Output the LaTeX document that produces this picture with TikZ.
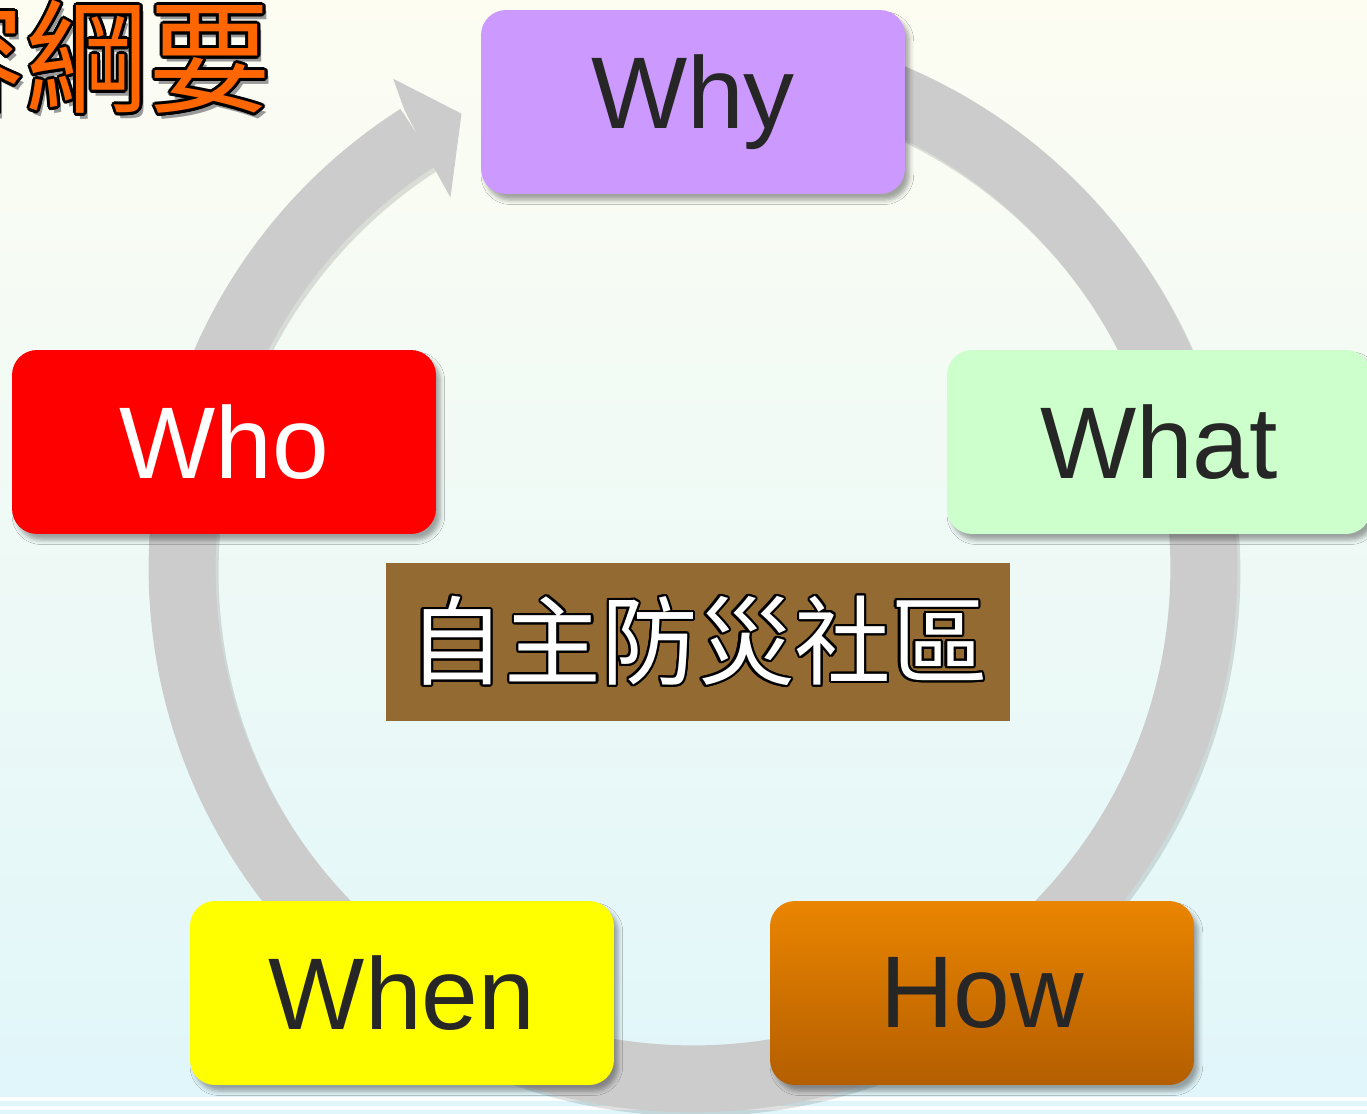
\documentclass[tikz,border=0pt]{standalone}
\usepackage{fontspec}
\setmainfont{Liberation Sans}
\newfontfamily\cjk{Noto Sans CJK TC}
\usepackage{contour}
\usepackage{tikz}
\usetikzlibrary{shadows,shadows.blur,positioning,calc}

\definecolor{bgtop}{HTML}{FDFDF2}
\definecolor{bgbot}{HTML}{E0F6FA}
\definecolor{ringgray}{HTML}{CCCCCC}
\definecolor{textdark}{HTML}{262626}
\definecolor{whyc}{HTML}{CC99FF}
\definecolor{whatc}{HTML}{CCFFCC}
\definecolor{whoc}{HTML}{FF0000}
\definecolor{whenc}{HTML}{FFFF00}
\definecolor{howtop}{HTML}{EA8500}
\definecolor{howbot}{HTML}{B45E00}
\definecolor{corec}{HTML}{946A33}
\definecolor{titlec}{HTML}{FF6600}

\begin{document}
\begin{tikzpicture}[x=0.02cm,y=0.02cm,
  wbox/.style={rounded corners=0.5cm, minimum width=8.48cm, minimum height=3.68cm,
    inner sep=0pt, text=textdark, font=\fontsize{58}{58}\selectfont,
    blur shadow={shadow xshift=2.5pt, shadow yshift=-3.5pt, shadow blur radius=2.5pt, shadow opacity=35}},
  ring/.style={ringgray, line width=1.34cm}
]
      \useasboundingbox (0,0) rectangle (1367,-1114);
      \fill[top color=bgtop, bottom color=bgbot] (0,0) rectangle (1367,-1114);
      \fill[white] (0,-1097) rectangle (1367,-1101);
      \fill[white] (0,-1106) rectangle (1367,-1110);
      %
      \coordinate (o) at (693,-568);
      \draw[ring, black, opacity=.12] ($(o)+(3,-4)+(90:10.22cm)$) arc[start angle=90, end angle=-237.5, radius=10.22cm];
      \draw[ring] ($(o)+(90:10.22cm)$) arc[start angle=90, end angle=-237.5, radius=10.22cm];
      \fill[ringgray] ($(o)+(122.2:10.84cm)$) -- ($(o)+(121.5:11.48cm)$) -- ($(o)+(117:10.2cm)$)
        -- ($(o)+(123.2:8.86cm)$) -- ($(o)+(122.9:9.58cm)$) -- cycle;
      %
      \node[wbox, fill=whyc](why) at (693,-102) {Why};
      \node[wbox, fill=whatc](what) at (1159,-442) {What};
      \node[wbox, fill=whoc, text=white](who) at (224,-442) {Who};
      \node[wbox, fill=whenc](when) at (402,-993) {When};
      \node[wbox, top color=howtop, bottom color=howbot](how) at (982,-993) {How};
      %
      \contourlength{1.3pt}
      \node[fill=corec, minimum width=12.48cm, minimum height=3.16cm, inner sep=0pt,
        font=\cjk\fontsize{55}{55}\selectfont](core) at (698,-642)
        {\color{white}\contour{black}{自主防災社區}};
      %
      \node[anchor=east, inner sep=0pt, text=black!40, font=\cjk\fontsize{70}{70}\selectfont](titleshadow)
        at (276,-62) {容綱要};
      \contourlength{1.6pt}
      \node[anchor=east, inner sep=0pt, font=\cjk\fontsize{70}{70}\selectfont](title)
        at (272,-58) {\color{titlec}\contour{black}{容綱要}};
    \end{tikzpicture}
\end{document}
